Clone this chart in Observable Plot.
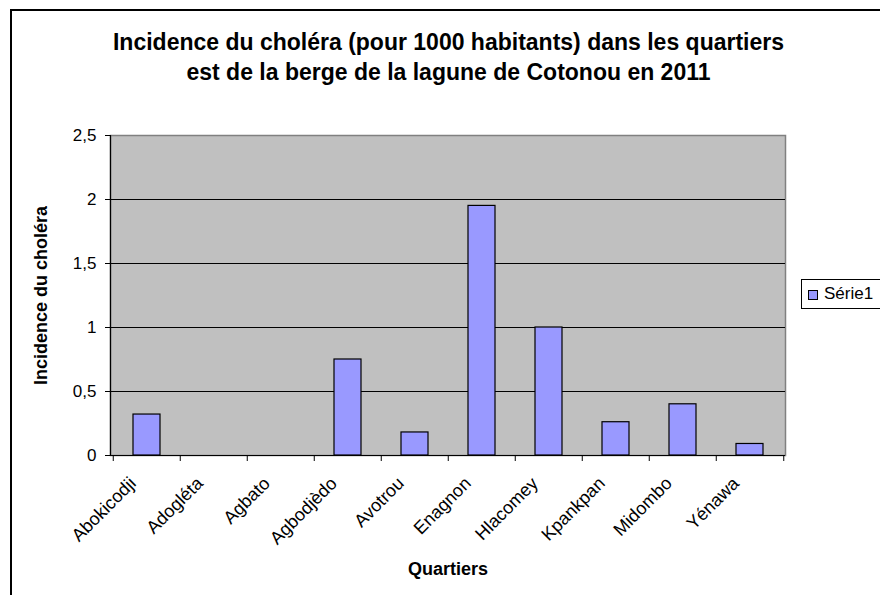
<!DOCTYPE html>
<html>
<head>
<meta charset="utf-8">
<script src="https://cdn.jsdelivr.net/npm/d3@7"></script>
<script src="https://cdn.jsdelivr.net/npm/@observablehq/plot@0.6"></script>
<style>
  html, body { margin: 0; padding: 0; background: #fff; }
  #wrap { position: relative; width: 880px; height: 595px; overflow: hidden; font-family: "Liberation Sans", Arial, sans-serif; color: #000; }
  #frame { position: absolute; left: 10px; top: 9px; width: 900px; height: 620px; border-left: 2px solid #000; border-top: 2px solid #000; box-sizing: border-box; }
  #chart { position: absolute; left: 0; top: 0; }
  #title { position: absolute; left: 48.5px; width: 800px; top: 27px; text-align: center; font-size: 23px; line-height: 30px; font-weight: bold; white-space: pre; }
  #legend { position: absolute; left: 801px; top: 279px; width: 100px; height: 30px; border: 1px solid #000; box-sizing: border-box; background: #fff; font-size: 17px; }
  #legend .sw { position: absolute; left: 6px; top: 10px; width: 10px; height: 10px; background: #9999FF; border: 1px solid #000; box-sizing: border-box; }
  #legend .lb { position: absolute; left: 22px; top: 4px; line-height: 20px; }
</style>
</head>
<body>
<div id="wrap">
  <div id="frame"></div>
  <div id="chart"></div>
  <div id="title"></div>
  <div id="legend"><div class="sw"></div><div class="lb" id="legendLabel"></div></div>
</div>
<script>
const categories = ["Abokicodji", "Adogléta", "Agbato", "Agbodjèdo", "Avotrou", "Enagnon", "Hlacomey", "Kpankpan", "Midombo", "Yénawa"];
const values = [0.32, 0, 0, 0.75, 0.18, 1.95, 1.0, 0.26, 0.40, 0.09];
const yTicks = [0, 0.5, 1, 1.5, 2, 2.5];
const gridTicks = [0.5, 1, 1.5, 2];
const seriesName = "Série1";
const titleLines = ["Incidence du choléra (pour 1000 habitants) dans les quartiers", "est de la berge de la lagune de Cotonou en 2011"];
const yLabel = "Incidence du choléra";
const xLabel = "Quartiers";

const data = categories.map((q, i) => ({q, v: values[i]}));
const fmt = d => String(d).replace(".", ",");

document.getElementById("legendLabel").textContent = seriesName;
document.getElementById("title").textContent = titleLines.join("\n");

const chart = Plot.plot({
  width: 880,
  height: 595,
  marginTop: 135,
  marginBottom: 140,
  marginLeft: 110,
  marginRight: 95,
  style: {fontFamily: "'Liberation Sans', Arial, sans-serif", background: "transparent", overflow: "visible", color: "#000"},
  x: {domain: categories, paddingInner: 0.6, paddingOuter: 0.3, align: 0.5},
  y: {domain: [0, 2.5]},
  marks: [
    Plot.frame({fill: "#C0C0C0", stroke: "#808080", strokeWidth: 1.5}),
    Plot.gridY(gridTicks, {stroke: "#000", strokeOpacity: 1, strokeWidth: 1}),
    Plot.barY(data.filter(d => d.v > 0), {x: "q", y: "v", fill: "#9999FF", stroke: "#000", strokeWidth: 1.2}),
    Plot.ruleY([0], {stroke: "#000", strokeWidth: 1.2}),
    Plot.frame({anchor: "left", stroke: "#000", strokeWidth: 1.2}),
    Plot.axisY(yTicks, {tickFormat: fmt, tickSize: 5, tickPadding: 9, fontSize: 17, label: null, stroke: "#000"}),
    Plot.axisX(categories, {tickSize: 6, tickFormat: () => "", dx: -33.75, label: null, stroke: "#000"}),
    Plot.axisX([categories[categories.length - 1]], {tickSize: 6, tickFormat: () => "", dx: 33.75, label: null, stroke: "#000"}),
    Plot.axisX(categories, {tickSize: 0, tickRotate: -45, textAnchor: "end", lineAnchor: "top", tickPadding: 20, dx: -19, fontSize: 18, label: null}),
    Plot.text([yLabel], {frameAnchor: "left", textAnchor: "middle", lineAnchor: "middle", dx: -69, rotate: -90, fontSize: 18, fontWeight: "bold"}),
    Plot.text([xLabel], {frameAnchor: "bottom", textAnchor: "middle", lineAnchor: "middle", dy: 114, fontSize: 18, fontWeight: "bold"})
  ]
});
document.getElementById("chart").appendChild(chart);
</script>
</body>
</html>
